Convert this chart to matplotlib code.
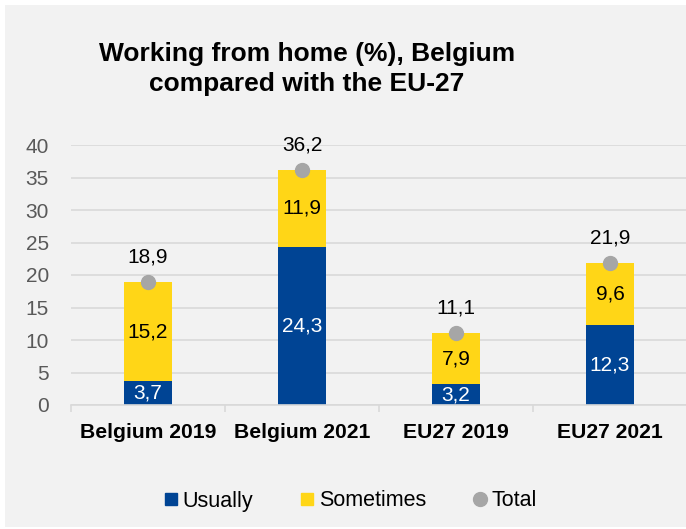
import matplotlib.pyplot as plt
from matplotlib.patches import Rectangle
from matplotlib.lines import Line2D

plt.rcParams['font.family'] = ['Liberation Sans', 'DejaVu Sans']

categories = ['Belgium 2019', 'Belgium 2021', 'EU27 2019', 'EU27 2021']
usually = [3.7, 24.3, 3.2, 12.3]
sometimes = [15.2, 11.9, 7.9, 9.6]
total = [18.9, 36.2, 11.1, 21.9]

blue = '#004494'
yellow = '#FFD617'
grey = '#A6A6A6'

def fmt(v):
    return ('%.1f' % v).replace('.', ',')

fig = plt.figure(figsize=(6.86, 5.29), dpi=100)
fig.patch.set_facecolor('white')
fig.patches.append(Rectangle((5 / 686, 2 / 529), 1, 522 / 529, transform=fig.transFigure,
                             facecolor='#F2F2F2', edgecolor='none', zorder=-10))

ax = fig.add_axes([71 / 686, 124 / 529, 616 / 686, 260 / 529])
ax.set_facecolor('none')
ax.set_zorder(1)

x = list(range(len(categories)))
ax.bar(x, usually, width=0.31, color=blue, zorder=2)
ax.bar(x, sometimes, width=0.31, bottom=usually, color=yellow, zorder=2)
ax.plot(x, total, 'o', color=grey, markersize=10, zorder=3)

for i in x:
    ax.text(i, usually[i] / 2, fmt(usually[i]), ha='center', va='center',
            color='white', fontsize=15, zorder=4)
    ax.text(i, usually[i] + sometimes[i] / 2, fmt(sometimes[i]), ha='center', va='center',
            color='black', fontsize=15, zorder=4)
    ax.annotate(fmt(total[i]), (i, total[i]), xytext=(0, 18), textcoords='offset points',
                ha='center', va='center', fontsize=15, color='black', zorder=4)

ax.set_xlim(-0.5, 3.5)
ax.set_ylim(0, 40)
ax.set_yticks(range(0, 45, 5))
ax.yaxis.grid(True, color='#D9D9D9', linewidth=1.2, zorder=0)
ax.set_axisbelow(True)

for s in ['top', 'right', 'left']:
    ax.spines[s].set_visible(False)
ax.spines['bottom'].set_color('#D9D9D9')
ax.spines['bottom'].set_linewidth(1.2)

ax.set_xticks(x)
ax.set_xticklabels(categories, fontweight='bold', fontsize=15.2)
ax.set_xticks([-0.5, 0.5, 1.5, 2.5, 3.5], minor=True)
ax.tick_params(axis='x', which='major', length=0, pad=13)
ax.tick_params(axis='x', which='minor', length=5, color='#D9D9D9', width=1.2)
ax.tick_params(axis='y', length=0, pad=16, labelsize=15, labelcolor='#595959')

fig.text(307 / 686, 1 - 69 / 529, 'Working from home (%), Belgium\ncompared with the EU-27',
         ha='center', va='center', fontsize=19, fontweight='bold', linespacing=1.36)

handles = [
    Line2D([], [], marker='s', color=blue, linestyle='none', markersize=9),
    Line2D([], [], marker='s', color=yellow, linestyle='none', markersize=9),
    Line2D([], [], marker='o', color=grey, linestyle='none', markersize=10),
]
fig.legend(handles, ['Usually', 'Sometimes', 'Total'], loc='center',
           bbox_to_anchor=(350 / 686, 1 - 501 / 529), ncol=3, frameon=False,
           fontsize=15.5, handlelength=0.7, handletextpad=0.2, columnspacing=2.15)

fig.savefig('out.png', dpi=100, facecolor=fig.get_facecolor())
